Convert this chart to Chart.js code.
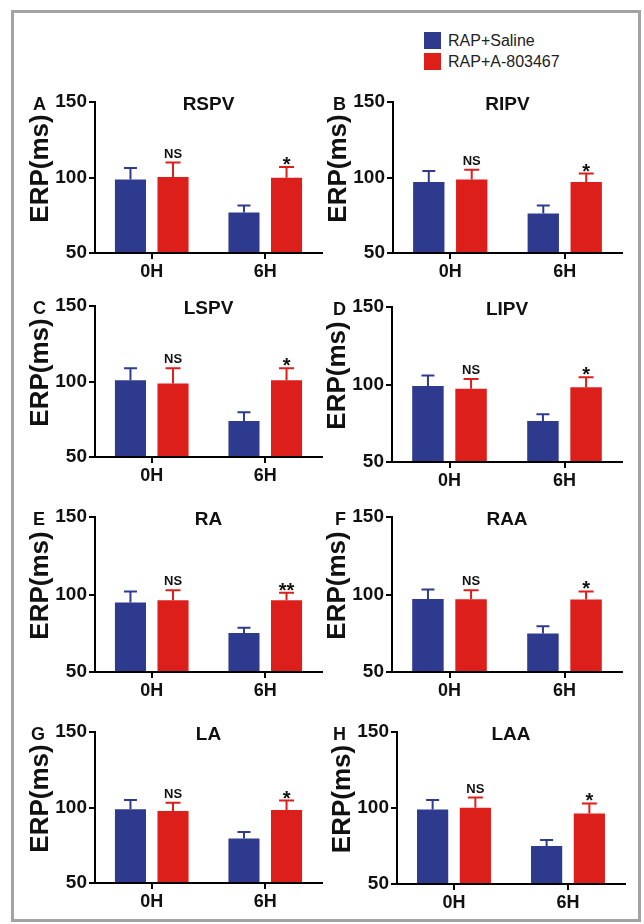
<!DOCTYPE html>
<html><head><meta charset="utf-8">
<script src="https://cdn.jsdelivr.net/npm/chart.js@4.4.1/dist/chart.umd.min.js"></script>
<style>
html,body{margin:0;padding:0;background:#fff;}
#fig{position:relative;width:644px;height:924px;overflow:hidden;background:#fff;}
#frame{position:absolute;left:11px;top:10px;width:630px;height:912px;border:3px solid #a3a3a3;box-sizing:border-box;}
canvas{position:absolute;}
.leg{position:absolute;font-family:"Liberation Sans",Arial,sans-serif;font-size:16px;color:#222;line-height:18px;}
.sw{position:absolute;width:17px;height:17px;}
</style></head>
<body>
<div id="fig">
  <div id="frame"></div>
  <div class="sw" id="sw0" style="left:424px;top:32px;"></div>
  <div class="leg" id="lg0" style="left:448px;top:32px;"></div>
  <div class="sw" id="sw1" style="left:424px;top:53px;"></div>
  <div class="leg" id="lg1" style="left:448px;top:53px;"></div>
</div>
<script>
// ---- data ----
const panelLetters = ['A','B','C','D','E','F','G','H'];
const regions = ['RSPV','RIPV','LSPV','LIPV','RA','RAA','LA','LAA'];
const timePoints = ['0H','6H'];
const seriesNames = ['RAP+Saline','RAP+A-803467'];
const salineMean = [[98.6,76.8],[97.0,76.1],[100.9,73.9],[99.1,76.5],[94.8,75.2],[97.1,74.8],[98.8,79.4],[99.0,75.0]];
const salineSEM  = [[7.7,4.6],[7.3,5.3],[7.8,5.8],[6.7,4.3],[7.2,3.4],[6.1,4.7],[6.1,4.4],[6.2,3.9]];
const drugMean   = [[100.3,99.9],[98.6,97.0],[98.7,100.9],[97.2,98.3],[96.3,96.3],[96.9,96.7],[97.7,98.3],[100.1,96.4]];
const drugSEM    = [[9.6,7.1],[6.6,5.6],[10.0,7.8],[6.3,6.4],[6.4,4.9],[5.8,5.3],[5.4,6.3],[6.8,6.6]];
const significance = [['NS','*'],['NS','*'],['NS','*'],['NS','*'],['NS','**'],['NS','*'],['NS','*'],['NS','*']];
const yTicks = [50,100,150];
const yAxisTitle = 'ERP(ms)';

// ---- style / layout ----
const BLUE = '#2e3a8e';
const RED = '#dc1f1b';
const FONT = '"Liberation Sans", Arial, Helvetica, sans-serif';
const layout = [
  {ax:95, ex:322, ty:102, by:253, lx:33},
  {ax:393, ex:622, ty:102, by:253, lx:333},
  {ax:95, ex:322, ty:306, by:457, lx:33},
  {ax:392, ex:622, ty:307, by:462, lx:333},
  {ax:95, ex:322, ty:517, by:672, lx:33},
  {ax:392, ex:622, ty:517, by:672, lx:335},
  {ax:95, ex:322, ty:732, by:883, lx:31},
  {ax:397, ex:625, ty:732, by:884, lx:333}
];
const WY = 72, PT = 16, HX = 34, PR = 12;

document.getElementById('sw0').style.background = BLUE;
document.getElementById('sw1').style.background = RED;
document.getElementById('lg0').textContent = seriesNames[0];
document.getElementById('lg1').textContent = seriesNames[1];

const decor = {
  id: 'panelDecor',
  afterDatasetsDraw(chart, args, o) {
    const ctx = chart.ctx;
    const ys = chart.scales.y;
    ctx.save();
    chart.data.datasets.forEach((ds, di) => {
      const meta = chart.getDatasetMeta(di);
      meta.data.forEach((el, j) => {
        const top = ys.getPixelForValue(ds.data[j] + o.sem[di][j]);
        const half = o.cap[di] / 2;
        ctx.strokeStyle = ds.backgroundColor;
        ctx.lineWidth = 2;
        ctx.beginPath();
        ctx.moveTo(el.x, el.y);
        ctx.lineTo(el.x, top);
        ctx.moveTo(el.x - half, top);
        ctx.lineTo(el.x + half, top);
        ctx.stroke();
        if (di === 1) {
          const s = o.sig[j];
          ctx.fillStyle = '#111';
          ctx.textAlign = 'center';
          ctx.textBaseline = 'alphabetic';
          if (s === 'NS') {
            ctx.font = 'bold 13px ' + FONT;
            ctx.fillText(s, el.x, top - 5);
          } else {
            ctx.font = 'bold 20px ' + FONT;
            ctx.fillText(s, el.x, top + 4);
          }
        }
      });
    });
    ctx.restore();
  },
  afterDraw(chart, args, o) {
    const ctx = chart.ctx;
    const ca = chart.chartArea;
    ctx.save();
    ctx.fillStyle = '#111';
    ctx.textBaseline = 'alphabetic';
    ctx.font = 'bold 19px ' + FONT;
    ctx.textAlign = 'center';
    ctx.fillText(o.title, (ca.left + ca.right) / 2, ca.top + 7.6);
    ctx.font = 'bold 18px ' + FONT;
    ctx.textAlign = 'left';
    ctx.fillText(o.letter, o.letterX, ca.top + 7.6);
    ctx.translate(ca.left - 54, (ca.top + ca.bottom) / 2 - 9);
    ctx.rotate(-Math.PI / 2);
    ctx.textAlign = 'center';
    ctx.textBaseline = 'middle';
    ctx.font = 'bold 26px ' + FONT;
    ctx.fillText(yAxisTitle, 0, 0);
    ctx.restore();
  }
};

const fig = document.getElementById('fig');
layout.forEach((L, i) => {
  const cv = document.createElement('canvas');
  const left = L.ax - WY, top = L.ty - PT;
  const w = WY + (L.ex - L.ax) + PR, h = PT + (L.by - L.ty) + HX;
  cv.width = w; cv.height = h;
  cv.style.left = left + 'px'; cv.style.top = top + 'px';
  cv.style.width = w + 'px'; cv.style.height = h + 'px';
  fig.appendChild(cv);
  new Chart(cv, {
    type: 'bar',
    data: {
      labels: timePoints,
      datasets: [
        {label: seriesNames[0], data: salineMean[i], backgroundColor: BLUE, base: 50, categoryPercentage: 0.75, barPercentage: 0.73},
        {label: seriesNames[1], data: drugMean[i], backgroundColor: RED, base: 50, categoryPercentage: 0.75, barPercentage: 0.73}
      ]
    },
    options: {
      responsive: false, animation: false, devicePixelRatio: 1,
      layout: {padding: {left: 0, top: PT, right: PR, bottom: 0}},
      plugins: {
        legend: {display: false}, tooltip: {enabled: false}, title: {display: false},
        panelDecor: {sem: [salineSEM[i], drugSEM[i]], sig: significance[i], cap: [13, 15],
                     title: regions[i], letter: panelLetters[i], letterX: L.lx - left}
      },
      scales: {
        x: {
          type: 'category', offset: true,
          grid: {display: true, drawOnChartArea: false, drawTicks: true, tickLength: 6, offset: false, color: '#000', lineWidth: 2},
          border: {display: true, color: '#000', width: 2},
          ticks: {color: '#111', font: {family: FONT, size: 18, weight: 'bold'}, padding: 2},
          afterFit(s) { s.height = HX; }
        },
        y: {
          min: 50, max: 150,
          afterBuildTicks(s) { s.ticks = yTicks.map(v => ({value: v})); },
          grid: {display: true, drawOnChartArea: false, drawTicks: true, tickLength: 6, color: '#000', lineWidth: 2},
          border: {display: true, color: '#000', width: 2},
          ticks: {color: '#111', font: {family: FONT, size: 19, weight: 'bold'}, padding: 2},
          afterFit(s) { s.width = WY; }
        }
      }
    },
    plugins: [decor]
  });
});
</script>
</body></html>
